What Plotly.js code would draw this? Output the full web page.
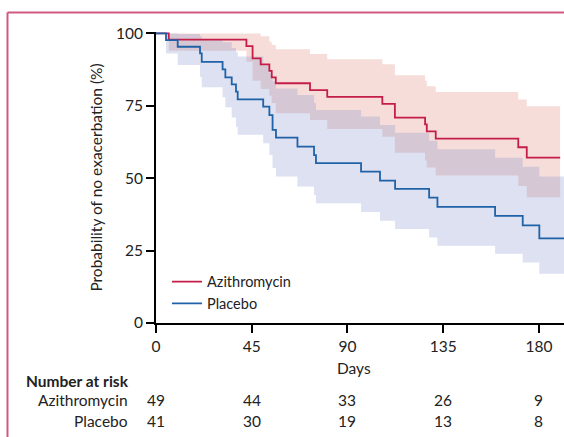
<!DOCTYPE html>
<html>
<head>
<meta charset="utf-8">
<script src="https://cdn.plot.ly/plotly-3.0.1.min.js"></script>
<style>html,body{margin:0;padding:0;background:#fff;}#chart{width:564px;height:437px;}</style>
</head>
<body>
<div id="chart"></div>
<script>
// Kaplan-Meier step data (days, %)
const aziTimes  = [0, 6, 42.5, 45.4, 49.2, 53.3, 54.4, 56.3, 72.4, 80.5, 106.4, 112.3, 126.5, 127.3, 131.5, 170.3, 174.3, 190];
const aziSurv   = [100, 97.9, 95.6, 91.4, 89.3, 87.1, 84.8, 82.8, 80.4, 78.1, 75.7, 70.9, 68.6, 66.2, 63.7, 60.7, 57.1, 57.1];
const aziLower  = [94, 90.2, 83.7, 80.8, 78.5, 76, 72.4, 70.1, 67, 64.3, 58.8, 56.1, 53.7, 50.9, 47.3, 43.4, 43.4];
const aziUpper  = [100, 100, 100, 99, 97.1, 96, 94.5, 92.9, 91.1, 89.4, 85.6, 83.7, 81.8, 79.8, 77.2, 74.9, 74.9];

const plaTimes  = [0, 4.7, 10.2, 20.7, 21.5, 31.3, 32.6, 35.6, 37.6, 38.4, 50.4, 53.3, 54.8, 56.4, 66.5, 74.3, 75.2, 96.4, 105.3, 112.4, 128.4, 132.3, 159.4, 172.4, 180.2, 192];
const plaSurv   = [100, 97.7, 95.4, 93.1, 90.2, 87.6, 84.8, 82.4, 79.9, 77.2, 74.7, 71.8, 66.7, 64.0, 60.9, 58.0, 55.2, 52.3, 49.2, 46.3, 43.3, 40.1, 37.0, 33.7, 29.2, 29.2];
const plaLower  = [93.1, 89.1, 85, 81.4, 78, 74.5, 71, 67.8, 65, 62.1, 58, 53.5, 50.6, 47.1, 44.2, 41.4, 38.3, 35.3, 32.5, 29.5, 26.7, 23.9, 20.9, 17, 17];
const plaUpper  = [100, 99.8, 99, 98, 97, 97, 95, 93.5, 92, 89, 86.2, 83.5, 81, 78.7, 76, 73.6, 71.3, 68.4, 65.7, 62.9, 60, 57.1, 54, 50.6, 50.6];

const xTicks    = [0, 45, 90, 135, 180];
const yTicks    = [0, 25, 50, 75, 100];
const groups    = ["Azithromycin", "Placebo"];
const riskAzi   = [49, 44, 33, 26, 9];
const riskPla   = [41, 30, 19, 13, 8];

const RED = "#c41e48", BLUE = "#1f62a8";
const FONT = "Lato, 'Open Sans', sans-serif";
const FS = 15.5;
const TXT = "#222";

const traces = [
  {x: aziTimes.slice(1), y: aziLower, mode: "lines", line: {width: 0, shape: "hv"}, showlegend: false, hoverinfo: "skip"},
  {x: aziTimes.slice(1), y: aziUpper, mode: "lines", line: {width: 0, shape: "hv"}, fill: "tonexty", fillcolor: "rgba(222,130,118,0.27)", showlegend: false, hoverinfo: "skip"},
  {x: plaTimes.slice(1), y: plaLower, mode: "lines", line: {width: 0, shape: "hv"}, showlegend: false, hoverinfo: "skip"},
  {x: plaTimes.slice(1), y: plaUpper, mode: "lines", line: {width: 0, shape: "hv"}, fill: "tonexty", fillcolor: "rgba(120,135,200,0.25)", showlegend: false, hoverinfo: "skip"},
  {x: aziTimes, y: aziSurv, mode: "lines", name: groups[0], line: {color: RED, width: 1.8, shape: "hv"}},
  {x: plaTimes, y: plaSurv, mode: "lines", name: groups[1], line: {color: BLUE, width: 1.8, shape: "hv"}}
];

const annotations = [];
annotations.push({text: "Days", xref: "x", yref: "paper", x: 93, y: -0.155, showarrow: false, font: {family: FONT, size: FS, color: TXT}, xanchor: "center", yanchor: "middle"});
annotations.push({text: "<b>Number at risk</b>", xref: "paper", yref: "paper", x: -0.323, y: -0.2, showarrow: false, font: {family: FONT, size: FS, color: TXT}, xanchor: "left", yanchor: "middle"});
const rowY = [-0.265, -0.337];
[riskAzi, riskPla].forEach((row, i) => {
  annotations.push({text: groups[i], xref: "paper", yref: "paper", x: -0.063, y: rowY[i], showarrow: false, font: {family: FONT, size: FS, color: TXT}, xanchor: "right", yanchor: "middle"});
  row.forEach((v, j) => {
    annotations.push({text: String(v), xref: "x", yref: "paper", x: xTicks[j], y: rowY[i], showarrow: false, font: {family: FONT, size: FS, color: TXT}, xanchor: "center", yanchor: "middle"});
  });
});

const layout = {
  width: 564, height: 437,
  margin: {l: 156, r: 0, t: 32, b: 114},
  paper_bgcolor: "#fff", plot_bgcolor: "#fff",
  hovermode: false,
  font: {family: FONT, size: FS, color: TXT},
  xaxis: {range: [0, 191.8], tickvals: xTicks, ticktext: xTicks.map(String), ticks: "outside", ticklen: 8, tickwidth: 2, tickcolor: "#000",
          showline: true, linewidth: 2, linecolor: "#000", showgrid: false, zeroline: false, fixedrange: true,
          tickfont: {family: FONT, size: FS, color: TXT}},
  yaxis: {range: [0, 100.5], tickvals: yTicks, ticktext: yTicks.map(String), ticks: "outside", ticklen: 8, tickwidth: 2, tickcolor: "#000",
          showline: true, linewidth: 2, linecolor: "#000", showgrid: false, zeroline: false, fixedrange: true,
          tickfont: {family: FONT, size: FS, color: TXT},
          title: {text: "Probability of no exacerbation (%)", font: {family: FONT, size: FS, color: TXT}, standoff: 9}},
  legend: {x: 0.027, y: 0.197, xanchor: "left", yanchor: "top", traceorder: "normal", bgcolor: "rgba(0,0,0,0)", font: {family: FONT, size: 14.5, color: TXT}, tracegroupgap: 0},
  annotations: annotations,
  shapes: [
    {type: "line", xref: "paper", yref: "paper", x0: -0.364, x1: -0.364, y0: 1.067, y1: -0.4, line: {color: "#cf5a80", width: 2}},
    {type: "line", xref: "paper", yref: "paper", x0: -0.364, x1: 1.01, y0: 1.067, y1: 1.067, line: {color: "#cf5a80", width: 2}}
  ]
};

Plotly.newPlot("chart", traces, layout, {staticPlot: true, displayModeBar: false});
</script>
</body>
</html>
